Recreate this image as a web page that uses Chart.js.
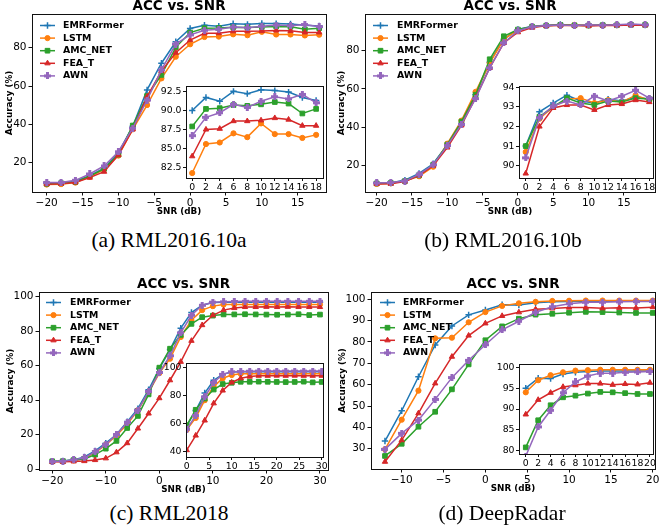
<!DOCTYPE html>
<html>
<head>
<meta charset="utf-8">
<script src="https://cdn.jsdelivr.net/npm/chart.js@4.4.1/dist/chart.umd.min.js"></script>
<style>
  body { margin: 0; background: #fff; }
  #fig { position: relative; width: 661px; height: 531px; overflow: hidden; background: #fff; }
  #fig canvas { position: absolute; }
  .cap { position: absolute; font-family: "Liberation Serif", serif; font-size: 21.5px; color: #000;
         transform: translate(-50%, -50%); white-space: nowrap; }
</style>
</head>
<body>
<div id="fig"></div>
<script>
// ---- data ----
const names = ['EMRFormer', 'LSTM', 'AMC_NET', 'FEA_T', 'AWN'];

// (a) RML2016.10a
const snrA  = [-20, -18, -16, -14, -12, -10, -8, -6, -4, -2, 0, 2, 4, 6, 8, 10, 12, 14, 16, 18];
const emrA  = [9.3, 9.4, 10.3, 13.2, 17.1, 25.2, 39.0, 58.0, 71.9, 83.1, 90.0, 91.7, 91.2, 92.5, 92.2, 92.7, 92.6, 92.4, 91.7, 91.3];
const lstmA = [8.6, 8.8, 9.6, 12.6, 16.5, 23.7, 37.4, 50.1, 64.0, 75.3, 81.8, 85.6, 85.8, 87.0, 86.5, 88.3, 86.9, 86.9, 86.4, 86.8];
const amcA  = [9.0, 9.3, 10.0, 13.0, 16.8, 24.2, 39.4, 54.8, 65.8, 80.2, 87.9, 90.2, 90.3, 90.7, 90.6, 90.8, 91.1, 90.9, 89.6, 90.2];
const feaA  = [8.8, 9.0, 9.7, 12.2, 15.3, 24.0, 37.4, 54.5, 67.8, 77.4, 84.0, 87.5, 87.6, 88.6, 88.6, 88.7, 89.0, 88.8, 88.0, 88.0];
const awnA  = [9.6, 9.7, 10.8, 14.1, 18.3, 25.7, 38.0, 52.7, 68.4, 81.9, 86.7, 89.1, 89.7, 90.8, 90.4, 91.2, 91.8, 91.5, 92.1, 91.0];

// (b) RML2016.10b
const snrB  = [-20, -18, -16, -14, -12, -10, -8, -6, -4, -2, 0, 2, 4, 6, 8, 10, 12, 14, 16, 18];
const emrB  = [11.0, 11.0, 12.5, 16.0, 21.0, 31.0, 42.0, 57.0, 74.0, 86.0, 91.0, 92.75, 93.2, 93.6, 93.3, 93.2, 93.4, 93.3, 93.5, 93.4];
const lstmB = [10.5, 10.8, 12.0, 14.5, 19.5, 31.5, 43.5, 58.5, 73.5, 86.0, 90.7, 92.4, 93.0, 93.4, 93.45, 93.2, 93.35, 93.25, 93.6, 93.35];
const amcB  = [10.8, 11.0, 12.0, 15.0, 20.5, 31.0, 43.0, 57.0, 75.5, 87.5, 91.0, 92.5, 93.0, 93.45, 93.2, 93.1, 93.3, 93.25, 93.45, 93.4];
const feaB  = [10.5, 10.6, 11.8, 15.0, 20.0, 29.5, 41.0, 55.5, 71.0, 84.0, 89.6, 92.0, 92.95, 93.1, 93.1, 92.85, 93.1, 93.15, 93.35, 93.25];
const awnB  = [11.0, 11.2, 12.0, 15.5, 20.5, 30.5, 41.5, 55.0, 71.0, 84.0, 90.4, 92.45, 93.05, 93.3, 93.1, 93.55, 93.3, 93.55, 93.85, 93.45];

// (c) RML2018
const snrC  = [-20, -18, -16, -14, -12, -10, -8, -6, -4, -2, 0, 2, 4, 6, 8, 10, 12, 14, 16, 18, 20, 22, 24, 26, 28, 30];
const emrC  = [4.5, 4.6, 5.3, 7.0, 10.5, 15.0, 20.0, 27.5, 35.0, 46.0, 58.3, 69.3, 81.7, 90.8, 95.0, 96.6, 96.8, 96.8, 96.9, 96.8, 96.8, 96.9, 96.8, 96.8, 96.9, 96.8];
const lstmC = [4.3, 4.4, 5.0, 6.2, 9.5, 14.0, 19.5, 26.0, 34.0, 44.5, 55.6, 64.0, 76.6, 86.3, 92.2, 94.5, 95.4, 95.4, 95.5, 95.4, 95.5, 95.4, 95.5, 95.4, 95.4, 95.4];
const amcC  = [4.5, 4.6, 5.2, 5.8, 8.3, 11.8, 16.3, 23.8, 30.8, 43.3, 58.8, 69.8, 77.8, 84.2, 88.1, 89.0, 89.7, 89.7, 89.8, 89.7, 89.6, 89.5, 89.6, 89.8, 89.3, 89.6];
const feaC  = [4.2, 4.2, 4.4, 4.6, 5.2, 6.2, 9.7, 15.0, 23.5, 32.2, 41.1, 51.5, 62.2, 74.4, 83.5, 89.2, 92.2, 93.4, 94.0, 94.0, 94.1, 94.0, 94.1, 94.0, 94.0, 94.0];
const awnC  = [4.3, 4.5, 5.3, 6.5, 10.0, 14.2, 20.0, 27.0, 34.0, 45.0, 56.0, 65.7, 79.0, 89.2, 95.0, 96.8, 97.0, 97.2, 97.3, 97.3, 97.3, 97.3, 97.3, 97.3, 97.3, 97.3];

// (d) DeepRadar
const snrD  = [-12, -10, -8, -6, -4, -2, 0, 2, 4, 6, 8, 10, 12, 14, 16, 18, 20];
const emrD  = [33.6, 47.8, 63.7, 78.6, 87.5, 92.7, 95.0, 97.4, 97.3, 98.4, 98.8, 99.0, 99.1, 99.1, 99.1, 99.1, 99.1];
const lstmD = [29.7, 43.6, 57.2, 81.7, 82.0, 89.2, 94.0, 96.9, 98.1, 98.8, 99.2, 99.3, 99.4, 99.4, 99.4, 99.4, 99.4];
const amcD  = [26.6, 32.3, 40.3, 47.3, 57.8, 69.5, 80.8, 87.3, 90.9, 92.8, 93.2, 93.7, 94.1, 94.0, 93.8, 93.6, 93.6];
const feaD  = [23.9, 34.0, 46.6, 60.6, 73.1, 83.0, 88.7, 92.2, 93.9, 95.3, 95.7, 96.1, 96.1, 95.8, 96.0, 95.9, 96.3];
const awnD  = [29.7, 37.2, 43.4, 53.1, 63.3, 71.4, 78.7, 85.7, 89.7, 93.9, 96.5, 97.9, 98.6, 98.6, 98.8, 98.9, 99.0];

// tick labels
const xTicksA = [-20, -15, -10, -5, 0, 5, 10, 15];
const yTicksA = [20, 40, 60, 80];
const ixTicksA = [0, 2, 4, 6, 8, 10, 12, 14, 16, 18];
const iyTicksA = [82.5, 85, 87.5, 90, 92.5];
const xTicksB = [-20, -15, -10, -5, 0, 5, 10, 15];
const yTicksB = [20, 40, 60, 80];
const ixTicksB = [0, 2, 4, 6, 8, 10, 12, 14, 16, 18];
const iyTicksB = [90, 91, 92, 93, 94];
const xTicksC = [-20, -10, 0, 10, 20, 30];
const yTicksC = [0, 20, 40, 60, 80, 100];
const ixTicksC = [0, 5, 10, 15, 20, 25, 30];
const iyTicksC = [40, 60, 80, 100];
const xTicksD = [-10, -5, 0, 5, 10, 15, 20];
const yTicksD = [30, 40, 50, 60, 70, 80, 90, 100];
const ixTicksD = [0, 2, 4, 6, 8, 10, 12, 14, 16, 18, 20];
const iyTicksD = [80, 85, 90, 95, 100];

// ---- styles ----
const colors = ['#1f77b4', '#ff7f0e', '#2ca02c', '#d62728', '#9467bd'];
Chart.defaults.font.family = '"DejaVu Sans", sans-serif';
Chart.defaults.color = '#000';

// filled plus marker for AWN
function plusMarker(color) {
    const c = document.createElement('canvas');
    c.width = 7; c.height = 7;
    const g = c.getContext('2d');
    g.fillStyle = color;
    g.fillRect(2, 0, 3, 7);
    g.fillRect(0, 2, 7, 3);
    return c;
}
const markers = ['cross', 'circle', 'rect', 'triangle', plusMarker(colors[4])];
const markerSize = [3.2, 2.6, 3.3, 3.1, 3.5];

function fmt(v) {
    return v < 0 ? '\u2212' + Math.abs(v) : String(v);
}

function makeSets(snr, series, fromZero) {
    return series.map((ys, i) => ({
        label: names[i],
        data: snr.map((x, k) => ({ x: x, y: ys[k] })).filter(p => !fromZero || p.x >= 0),
        borderColor: colors[i],
        backgroundColor: colors[i],
        borderWidth: 1.5,
        pointStyle: markers[i],
        pointRadius: markerSize[i],
        pointBackgroundColor: colors[i],
        pointBorderColor: colors[i],
        pointBorderWidth: i === 0 ? 1.5 : 1,
        order: -i
    }));
}

// black box round the plot area, white fill for the insets
const framePlugin = {
    id: 'frame',
    beforeDraw(chart, args, o) {
        if (!o.white) return;
        const a = chart.chartArea, ctx = chart.ctx;
        ctx.save();
        ctx.fillStyle = '#fff';
        ctx.fillRect(a.left, a.top, a.right - a.left, a.bottom - a.top);
        ctx.restore();
    },
    afterDraw(chart) {
        const a = chart.chartArea, ctx = chart.ctx;
        ctx.save();
        ctx.strokeStyle = '#111';
        ctx.lineWidth = 1;
        ctx.strokeRect(Math.round(a.left) + 0.5, Math.round(a.top) + 0.5,
            Math.round(a.right) - Math.round(a.left), Math.round(a.bottom) - Math.round(a.top));
        ctx.restore();
    }
};

// legend inside the upper left corner
const innerLegend = {
    id: 'innerLegend',
    afterDraw(chart, args, o) {
        if (!o.show) return;
        const a = chart.chartArea, ctx = chart.ctx;
        ctx.save();
        ctx.font = 'bold 9.4px "DejaVu Sans"';
        ctx.textBaseline = 'middle';
        chart.data.datasets.forEach((ds, i) => {
            const y = a.top + o.top + i * o.gap;
            const x0 = a.left + o.left;
            ctx.strokeStyle = ds.borderColor;
            ctx.lineWidth = ds.borderWidth;
            ctx.beginPath();
            ctx.moveTo(x0, y);
            ctx.lineTo(x0 + 15, y);
            ctx.stroke();
            ctx.fillStyle = ds.pointBackgroundColor;
            ctx.strokeStyle = ds.pointBorderColor;
            ctx.lineWidth = ds.pointBorderWidth;
            Chart.helpers.drawPoint(ctx, {
                pointStyle: ds.pointStyle, radius: ds.pointRadius,
                borderWidth: ds.pointBorderWidth, rotation: 0
            }, x0 + 7.5, y);
            ctx.fillStyle = '#000';
            ctx.fillText(ds.label, a.left + o.text, y);
        });
        ctx.restore();
    }
};

const fig = document.getElementById('fig');

function addCanvas(left, top, w, h) {
    const c = document.createElement('canvas');
    c.width = w; c.height = h;
    c.style.left = left + 'px';
    c.style.top = top + 'px';
    c.style.width = w + 'px';
    c.style.height = h + 'px';
    fig.appendChild(c);
    return c;
}

function axis(range, ticks, cfg) {
    return {
        type: 'linear',
        min: range[0],
        max: range[1],
        afterBuildTicks: s => { s.ticks = ticks.map(v => ({ value: v })); },
        afterFit: s => { if (cfg.w) s.width = cfg.w; if (cfg.h) s.height = cfg.h; },
        grid: { drawOnChartArea: false, drawTicks: true, tickLength: cfg.tl, tickColor: '#111', lineWidth: 1 },
        border: { display: false },
        ticks: {
            font: { size: cfg.fs }, color: '#000', padding: cfg.pad,
            autoSkip: false, maxRotation: 0, minRotation: 0,
            callback: v => cfg.fixed ? v.toFixed(1) : fmt(v)
        },
        title: cfg.title ? {
            display: true, text: cfg.title, color: '#000',
            font: { size: 8.8, weight: 'bold', lineHeight: 1.2 },
            padding: cfg.tpad
        } : { display: false }
    };
}

function mainChart(p, snr, series) {
    const yW = p.yW, xH = 28, titleH = 16, padR = 12;
    const [L, T, R, B] = p.frame;
    const c = addCanvas(L - yW, T - titleH, R - L + yW + padR, B - T + titleH + xH);
    new Chart(c, {
        type: 'line',
        data: { datasets: makeSets(snr, series, false) },
        plugins: [framePlugin, innerLegend],
        options: {
            responsive: false,
            animation: false,
            events: [],
            layout: { padding: { left: 0, top: 0, right: padR, bottom: 0 } },
            plugins: {
                legend: { display: false },
                tooltip: { enabled: false },
                title: {
                    display: true, text: 'ACC vs. SNR', color: '#000', fullSize: false,
                    font: { size: 13.5, weight: 'bold', lineHeight: 1 },
                    padding: { top: 2, bottom: 0.5 }
                },
                frame: { white: false },
                innerLegend: { show: true, left: p.leg[0], text: p.leg[1], top: p.leg[2], gap: 12.6 }
            },
            scales: {
                x: axis(p.xr, p.xt, { h: xH, tl: 3.5, fs: 10.5, pad: 1, title: 'SNR (dB)', tpad: { top: 0, bottom: 2.7 } }),
                y: axis(p.yr, p.yt, { w: yW, tl: 3.5, fs: 10.5, pad: 2, title: 'Accuracy (%)', tpad: { top: yW - p.yTitle - 5.3, bottom: 0 } })
            }
        }
    });
}

function insetChart(p, snr, series) {
    const yW = 27, xH = 14, padT = 8, padR = 8;
    const [L, T, R, B] = p.inset;
    const c = addCanvas(L - yW, T - padT, R - L + yW + padR, B - T + padT + xH);
    new Chart(c, {
        type: 'line',
        data: { datasets: makeSets(snr, series, true) },
        plugins: [framePlugin],
        options: {
            responsive: false,
            animation: false,
            events: [],
            layout: { padding: { left: 0, top: padT, right: padR, bottom: 0 } },
            plugins: {
                legend: { display: false },
                tooltip: { enabled: false },
                frame: { white: true }
            },
            scales: {
                x: axis(p.ixr, p.ixt, { h: xH, tl: 3, fs: 9.3, pad: 1 }),
                y: axis(p.iyr, p.iyt, { w: yW, tl: 3, fs: 9.3, pad: 1.5, fixed: p.fixed })
            }
        }
    });
}

function caption(text, x, y) {
    const d = document.createElement('div');
    d.className = 'cap';
    d.textContent = text;
    d.style.left = x + 'px';
    d.style.top = y + 'px';
    fig.appendChild(d);
}

// ---- the four panels ----
const panelA = { frame: [32, 14, 326, 192], yW: 32, yTitle: 22, xr: [-22.05, 18.95], yr: [4.7, 97.6], xt: xTicksA, yt: yTicksA,
    leg: [8, 31, 11.5], inset: [186, 86, 323, 178], ixr: [-0.9, 19.0], iyr: [81.15, 93.2], ixt: ixTicksA, iyt: iyTicksA, fixed: true };
const panelB = { frame: [365, 14, 655, 192], yW: 32, yTitle: 23, xr: [-21.65, 19.4], yr: [6.3, 99.1], xt: xTicksB, yt: yTicksB,
    leg: [8, 32, 11.5], inset: [519, 86, 653, 178], ixr: [-0.98, 18.54], iyr: [89.37, 94.07], ixt: ixTicksB, iyt: iyTicksB };
const panelC = { frame: [39, 292, 328, 470], yW: 39, yTitle: 28, xr: [-22.47, 31.5], yr: [-0.58, 102.7], xt: xTicksC, yt: yTicksC,
    leg: [7, 31, 10.5], inset: [186, 363, 323, 457], ixr: [-0.16, 30.29], iyr: [36.23, 103.06], ixt: ixTicksC, iyt: iyTicksC };
const panelD = { frame: [371, 292, 655, 469], yW: 39, yTitle: 28, xr: [-13.67, 20.27], yr: [20.5, 103.4], xt: xTicksD, yt: yTicksD,
    leg: [9, 32, 10.5], inset: [519, 364, 653, 454], ixr: [-1.09, 20.49], iyr: [79.21, 100.79], ixt: ixTicksD, iyt: iyTicksD };

mainChart(panelA, snrA, [emrA, lstmA, amcA, feaA, awnA]);
insetChart(panelA, snrA, [emrA, lstmA, amcA, feaA, awnA]);
mainChart(panelB, snrB, [emrB, lstmB, amcB, feaB, awnB]);
insetChart(panelB, snrB, [emrB, lstmB, amcB, feaB, awnB]);
mainChart(panelC, snrC, [emrC, lstmC, amcC, feaC, awnC]);
insetChart(panelC, snrC, [emrC, lstmC, amcC, feaC, awnC]);
mainChart(panelD, snrD, [emrD, lstmD, amcD, feaD, awnD]);
insetChart(panelD, snrD, [emrD, lstmD, amcD, feaD, awnD]);

caption('(a) RML2016.10a', 169, 240);
caption('(b) RML2016.10b', 503, 240);
caption('(c) RML2018', 169, 513);
caption('(d) DeepRadar', 502, 513);
</script>
</body>
</html>
